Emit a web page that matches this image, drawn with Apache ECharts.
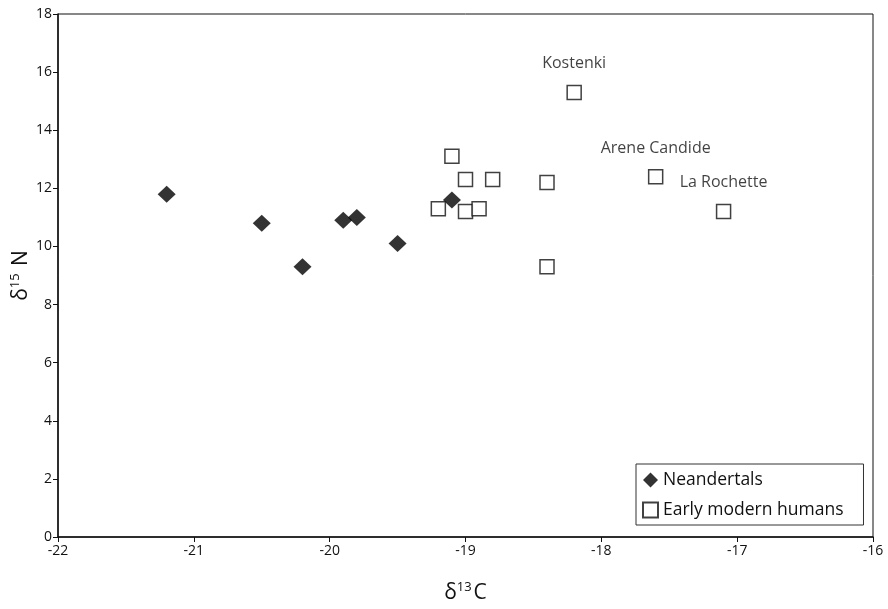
<!DOCTYPE html>
<html>
<head>
<meta charset="utf-8">
<script src="https://cdn.jsdelivr.net/npm/echarts@6/dist/echarts.min.js"></script>
<style>
  html, body { margin: 0; padding: 0; background: #fff; }
  #chart { width: 888px; height: 609px; }
</style>
</head>
<body>
<div id="chart"></div>
<script>
// δ13C, δ15N values
var neandertals = [
    [-21.2, 11.8],
    [-20.5, 10.8],
    [-20.2, 9.3],
    [-19.9, 10.9],
    [-19.8, 11.0],
    [-19.5, 10.1],
    [-19.1, 11.6]
];
var earlyModern = [
    [-18.2, 15.3, 'Kostenki'],
    [-19.1, 13.1, ''],
    [-19.0, 12.3, ''],
    [-18.8, 12.3, ''],
    [-18.4, 12.2, ''],
    [-17.6, 12.4, 'Arene Candide'],
    [-17.1, 11.2, 'La Rochette'],
    [-19.2, 11.3, ''],
    [-19.0, 11.2, ''],
    [-18.9, 11.3, ''],
    [-18.4, 9.3, '']
];
var xTicks = [-22, -21, -20, -19, -18, -17, -16];
var yTicks = [0, 2, 4, 6, 8, 10, 12, 14, 16, 18];

var font = '"Open Sans", "DejaVu Sans", sans-serif';
var chart = echarts.init(document.getElementById('chart'));

var titleRich = {
    a: { fontSize: 21, color: '#111', fontFamily: font },
    s: { fontSize: 13, color: '#111', fontFamily: font, verticalAlign: 'top', padding: [0, 2, 12, 0] }
};

var option = {
    backgroundColor: '#fff',
    animation: false,
    textStyle: { fontFamily: font, color: '#111' },
    grid: {
        left: 58,
        right: 15,
        top: 14,
        bottom: 72,
        containLabel: false,
        outerBoundsMode: 'none',
        show: true,
        borderColor: '#111',
        borderWidth: 1
    },
    legend: {
        orient: 'vertical',
        left: 636,
        top: 464,
        backgroundColor: '#fff',
        borderColor: '#333',
        borderWidth: 1,
        padding: [7, 20, 6, 6],
        itemGap: 12,
        itemWidth: 15,
        itemHeight: 15,
        textStyle: { fontSize: 17.5, color: '#111', fontFamily: font },
        data: [
            { name: 'Neandertals', icon: 'diamond' },
            { name: 'Early modern humans', icon: 'rect' }
        ]
    },
    xAxis: {
        type: 'value',
        min: xTicks[0],
        max: xTicks[xTicks.length - 1],
        interval: 1,
        name: '{a|δ}{s|13}{a|C}',
        nameLocation: 'middle',
        nameGap: 44,
        nameMoveOverlap: false,
        nameTextStyle: { rich: titleRich },
        axisLine: { show: true, lineStyle: { color: '#111', width: 1.5 } },
        axisTick: { show: true, inside: false, length: 5, lineStyle: { color: '#111' } },
        axisLabel: { fontSize: 14, color: '#111', margin: 7 },
        splitLine: { show: false }
    },
    yAxis: {
        type: 'value',
        min: yTicks[0],
        max: yTicks[yTicks.length - 1],
        interval: 2,
        name: '{a|δ}{s|15}{a| N}',
        nameLocation: 'middle',
        nameGap: 24,
        nameMoveOverlap: false,
        nameRotate: 90,
        nameTextStyle: { rich: titleRich },
        axisLine: { show: true, lineStyle: { color: '#111', width: 1.5 } },
        axisTick: { show: true, inside: false, length: 5, lineStyle: { color: '#111' } },
        axisLabel: { fontSize: 14, color: '#111', margin: 6 },
        splitLine: { show: false }
    },
    series: [
        {
            name: 'Neandertals',
            type: 'scatter',
            symbol: 'diamond',
            symbolSize: [18, 17],
            itemStyle: { color: '#000' },
            data: neandertals
        },
        {
            name: 'Early modern humans',
            type: 'scatter',
            symbol: 'rect',
            symbolSize: 14,
            itemStyle: { color: '#fff', borderColor: '#111', borderWidth: 1.5 },
            label: {
                show: true,
                position: 'top',
                distance: 13,
                fontSize: 16,
                color: '#111',
                fontFamily: font,
                formatter: function (p) { return p.value[2]; }
            },
            data: earlyModern
        }
    ]
};
chart.setOption(option);
</script>
</body>
</html>
